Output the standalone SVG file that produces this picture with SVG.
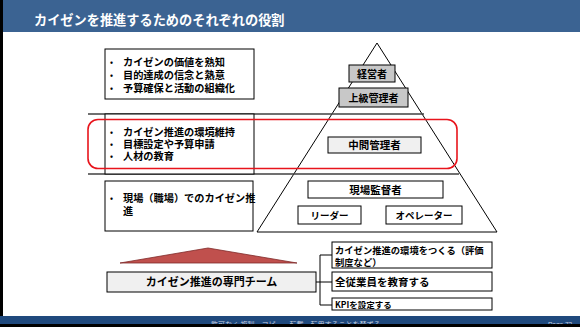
<svg xmlns="http://www.w3.org/2000/svg" width="580" height="327" viewBox="0 0 580 327">
<style>
text{font-family:"Noto Sans CJK JP","Liberation Sans",sans-serif;font-weight:bold;fill:#000}
.b{fill:#fff;stroke:#000;stroke-width:1}
.g{fill:#c8c8c8;stroke:#000;stroke-width:1}
.l{fill:#f0f0f0;stroke:#000;stroke-width:1}
.t{font-size:10.2px}
.d{font-size:8px}
.c{text-anchor:middle}
.ln{stroke:#404040;stroke-width:1.5;fill:none}
.cn{stroke:#000;stroke-width:1;fill:none}
</style>
<rect x="0" y="0" width="580" height="327" fill="#fff"/>
<rect x="0" y="0" width="580" height="32" fill="#3b6392"/>
<rect x="0" y="0" width="3" height="327" fill="#000"/>
<text x="34" y="25" font-size="13.2" style="fill:#fff">カイゼンを推進するためのそれぞれの役割</text>

<g id="pyramid">
<polygon points="377,43 257,232 497,232" fill="#fff" stroke="#000" stroke-width="1"/>
</g>
<g id="dividers">
<line class="ln" x1="88" y1="114" x2="424" y2="114"/>
<line class="ln" x1="88" y1="174" x2="459" y2="174"/>
</g>

<g id="box1">
<rect class="b" x="105" y="49" width="149" height="50"/>
<text class="d" x="110" y="65">•</text><text class="t" x="123" y="66">カイゼンの価値を熟知</text>
<text class="d" x="110" y="78">•</text><text class="t" x="123" y="79">目的達成の信念と熱意</text>
<text class="d" x="110" y="91">•</text><text class="t" x="123" y="92">予算確保と活動の組織化</text>
</g>
<g id="box2">
<rect class="b" x="105" y="114" width="149" height="60"/>
<text class="d" x="110" y="135">•</text><text class="t" x="123" y="136">カイゼン推進の環境維持</text>
<text class="d" x="110" y="147">•</text><text class="t" x="123" y="148">目標設定や予算申請</text>
<text class="d" x="110" y="159">•</text><text class="t" x="123" y="160">人材の教育</text>
</g>
<g id="box3">
<rect class="b" x="105" y="181" width="148" height="50"/>
<text class="d" x="110" y="201">•</text><text class="t" x="123" y="202">現場（職場）でのカイゼン推</text>
<text class="t" x="123" y="215">進</text>
</g>

<g id="highlight">
<rect x="88" y="119.5" width="369" height="49" rx="10" fill="none" stroke="#e8141c" stroke-width="1.6"/>
</g>

<g id="n-keiei"><rect class="g" x="349" y="65" width="46" height="17"/><text class="c" x="372" y="77.5" font-size="10">経営者</text></g>
<g id="n-joukyu"><rect class="g" x="339" y="88" width="69" height="19"/><text class="c" x="373.5" y="101.5" font-size="10">上級管理者</text></g>
<g id="n-chukan"><rect class="l" x="328" y="137" width="93" height="16"/><text class="c" x="374.5" y="149" font-size="10.5">中間管理者</text></g>
<g id="n-genba"><rect class="b" x="308" y="181" width="135" height="17"/><text class="c" x="375.5" y="193.5" font-size="10.5">現場監督者</text></g>
<g id="n-leader"><rect class="b" x="298" y="206" width="63" height="18"/><text class="c" x="329.5" y="219" font-size="9.5">リーダー</text></g>
<g id="n-operator"><rect class="b" x="386" y="206" width="76" height="18"/><text class="c" x="424" y="219" font-size="9.5">オペレーター</text></g>

<g id="team-triangle"><polygon points="120,263 208,248 297,263" fill="#c0504d" stroke="#7f2a28" stroke-width="0.8"/></g>
<g id="n-team"><rect class="l" x="107" y="272" width="209" height="20"/><text class="c" x="211.5" y="286" font-size="11">カイゼン推進の専門チーム</text></g>

<g id="connectors">
<path class="cn" d="M316,282 H320 M320,255 V305 M320,255 H332 M320,282 H332 M320,305 H332"/>
</g>

<g id="n-a"><rect class="b" x="332" y="242" width="160" height="26"/><text x="335" y="253.5" font-size="9.3">カイゼン推進の環境をつくる（評価</text><text x="335" y="266" font-size="9.3">制度など）</text></g>
<g id="n-b"><rect class="b" x="332" y="272" width="160" height="19"/><text x="335" y="286" font-size="10.5">全従業員を教育する</text></g>
<g id="n-c"><rect class="b" x="332" y="298" width="160" height="12"/><text x="335" y="308" font-size="8.5">KPIを設定する</text></g>

<g id="footer">
<rect x="0" y="316" width="580" height="11" fill="#1f497d"/>
<text x="211" y="327" font-size="7" style="fill:#c8d0e0;font-weight:normal">許可なく 複製・コピー・転載・転用することを禁ずる</text>
<text x="548" y="327" font-size="6.5" style="fill:#c8d0e0;font-weight:normal;font-family:'Liberation Sans',sans-serif">Page 73</text>
<rect x="0" y="324" width="580" height="3" fill="#000"/>
</g>
</svg>
